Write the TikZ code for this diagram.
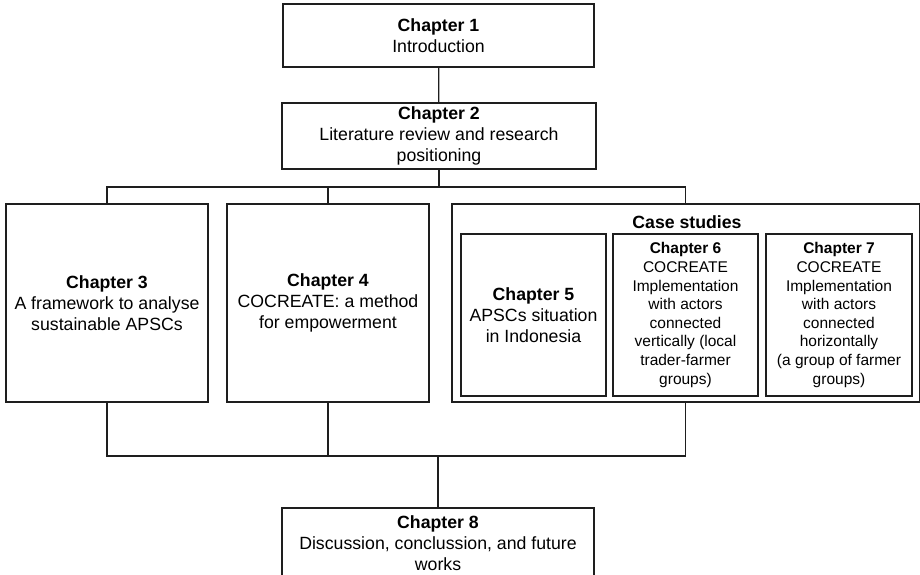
\documentclass[tikz,border=0pt]{standalone}
\usepackage{fontspec}
\setmainfont{Liberation Sans}
\usepackage{tikz}
\usetikzlibrary{positioning,calc}
\definecolor{boxline}{RGB}{30,30,30}
\newcommand{\bigtxt}{\fontsize{17.7}{20.7}\selectfont}
\newcommand{\smalltxt}{\fontsize{15.5}{18.6}\selectfont}
\tikzset{
  chapbox/.style={draw=boxline, line width=1.2pt, align=center, inner sep=0pt, font=\bigtxt},
  casebox/.style={chapbox, font=\smalltxt},
  link/.style={draw=boxline, line width=1.2pt},
}

\begin{document}
\begin{tikzpicture}[x=1pt,y=-1pt]
\useasboundingbox (0,0) rectangle (920,575);
% top of the thesis
\node[chapbox, minimum width=311pt, minimum height=63pt] (ch1) at (438.5,35.5)
  {\textbf{Chapter 1}\\Introduction};
\node[chapbox, minimum width=314pt, minimum height=66pt] (ch2) at (439,136)
  {\textbf{Chapter 2}\\Literature review and research\\positioning};
% middle row
\node[chapbox, minimum width=202pt, minimum height=198pt] (ch3) at (107,303)
  {\textbf{Chapter 3}\\A framework to analyse\\sustainable APSCs};
\node[chapbox, minimum width=202pt, minimum height=198pt] (ch4) at (328,303)
  {\textbf{Chapter 4}\\COCREATE: a method\\for empowerment};
\node[chapbox, minimum width=467.5pt, minimum height=198pt] (cases) at (685.75,303) {};
\node[font=\bigtxt\bfseries, inner sep=0pt] (casetitle) at (687,222) {Case studies};
\node[chapbox, minimum width=145pt, minimum height=162pt] (ch5) at (533.5,315)
  {\textbf{Chapter 5}\\APSCs situation\\in Indonesia};
\node[casebox, minimum width=145pt, minimum height=162pt] (ch6) at (685.5,315)
  {\textbf{Chapter 6}\\COCREATE\\Implementation\\with actors\\connected\\vertically (local\\trader-farmer\\groups)};
\node[casebox, minimum width=146pt, minimum height=162pt] (ch7) at (839,315)
  {\textbf{Chapter 7}\\COCREATE\\Implementation\\with actors\\connected\\horizontally\\(a group of farmer\\groups)};
% bottom
\node[chapbox, minimum width=312pt, minimum height=70pt] (ch8) at (438,543)
  {\textbf{Chapter 8}\\Discussion, conclussion, and future\\works};

\coordinate (topbus) at (439,187);
\coordinate (botbus) at (438,456);
\draw[link] (ch1) -- (ch2);
\draw[link] (ch2.south) -- (topbus);
\draw[link] (ch3.north) |- (topbus) -| (cases.north);
\draw[link] (ch4.north) -- (ch4.north |- topbus);
\draw[link] (ch3.south) |- (botbus) -| (cases.south);
\draw[link] (ch4.south) -- (ch4.south |- botbus);
\draw[link] (botbus) -- (ch8.north);
\end{tikzpicture}
\end{document}
